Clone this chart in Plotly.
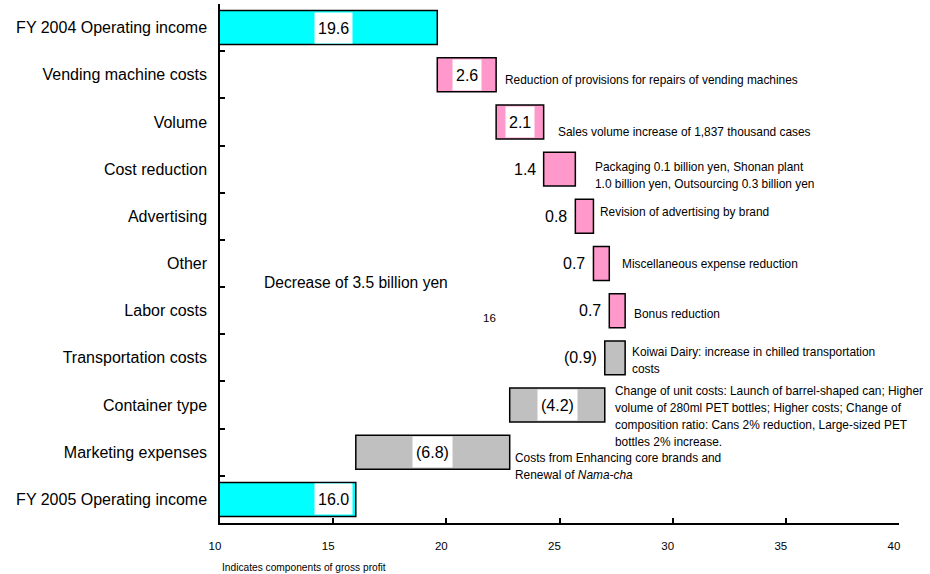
import plotly.graph_objects as go

# ---------------- data ----------------
categories = [
    "FY 2004 Operating income",
    "Vending machine costs",
    "Volume",
    "Cost reduction",
    "Advertising",
    "Other",
    "Labor costs",
    "Transportation costs",
    "Container type",
    "Marketing expenses",
    "FY 2005 Operating income",
]
start_value = 19.6
changes = [2.6, 2.1, 1.4, 0.8, 0.7, 0.7, -0.9, -4.2, -6.8]
end_value = 16.0

notes = [
    None,
    ["Reduction of provisions for repairs of vending machines"],
    ["Sales volume increase of 1,837 thousand cases"],
    ["Packaging 0.1 billion yen, Shonan plant",
     "1.0 billion yen, Outsourcing 0.3 billion yen"],
    ["Revision of advertising by brand"],
    ["Miscellaneous expense reduction"],
    ["Bonus reduction"],
    ["Koiwai Dairy: increase in chilled transportation", "costs"],
    ["Change of unit costs: Launch of barrel-shaped can; Higher",
     "volume of 280ml PET bottles; Higher costs; Change of",
     "composition ratio: Cans 2% reduction, Large-sized PET",
     "bottles 2% increase."],
    ["Costs from Enhancing core brands and",
     "Renewal of <i>Nama-cha</i>"],
    None,
]
x_ticks = [10, 15, 20, 25, 30, 35, 40]
decrease_text = "Decrease of 3.5 billion yen"
stray_label = "16"
footnote = "Indicates components of gross profit"

# ---------------- styles / label placement ----------------
colors = {"total": "#00FFFF", "up": "#FF99CC", "down": "#C0C0C0"}
FONT = "Liberation Sans, Arial, sans-serif"
note_xshift = [0, 7, 12, 18, 5, 11, 7, 5, 8, 3, 0]
note_yshift = [0, -5, -10, -6, 4, 0, -3, -3, -11, -14, 0]
line_gap = 17
total_label_x = 15.0

# ---------------- waterfall geometry ----------------
bases, lengths, kinds, labels = [0.0], [start_value], ["total"], [f"{start_value:.1f}"]
running = start_value
for c in changes:
    if c >= 0:
        bases.append(running)
        running += c
        kinds.append("up")
        labels.append(f"{c:.1f}")
    else:
        running += c
        bases.append(running)
        kinds.append("down")
        labels.append(f"({abs(c):.1f})")
    lengths.append(abs(c))
bases.append(0.0)
lengths.append(end_value)
kinds.append("total")
labels.append(f"{end_value:.1f}")

fig = go.Figure(
    go.Bar(
        y=categories,
        x=lengths,
        base=bases,
        orientation="h",
        width=0.72,
        marker=dict(color=[colors[k] for k in kinds],
                    line=dict(color="black", width=1.5)),
        hoverinfo="skip",
    )
)

annotations = []
for i, cat in enumerate(categories):
    b, l, k = bases[i], lengths[i], kinds[i]
    if k == "total":
        annotations.append(dict(x=total_label_x, y=cat, text=labels[i], showarrow=False,
                                bgcolor="white", borderpad=3, height=24,
                                font=dict(size=16, family=FONT, color="black")))
    elif l >= 2:
        annotations.append(dict(x=b + l / 2, y=cat, text=labels[i], showarrow=False,
                                bgcolor="white", borderpad=3, height=24,
                                font=dict(size=16, family=FONT, color="black")))
    else:
        annotations.append(dict(x=b, y=cat, text=labels[i], showarrow=False,
                                xanchor="right", xshift=-6,
                                font=dict(size=16, family=FONT, color="black")))
    if notes[i]:
        n = len(notes[i])
        for j, line in enumerate(notes[i]):
            annotations.append(dict(
                x=b + l, y=cat, text=line, showarrow=False,
                xanchor="left", yanchor="middle",
                xshift=note_xshift[i],
                yshift=note_yshift[i] + ((n - 1) / 2 - j) * line_gap,
                font=dict(size=11.9, family=FONT, color="black")))

annotations.append(dict(x=16.0, y="Other", text=decrease_text, showarrow=False,
                        yshift=-19, font=dict(size=15.6, family=FONT, color="black")))
annotations.append(dict(x=21.9, y="Labor costs", text=stray_label, showarrow=False,
                        yshift=-7, font=dict(size=11.5, family=FONT, color="black")))
annotations.append(dict(x=0, xref="paper", y=-0.085, yref="paper", text=footnote,
                        showarrow=False, xanchor="left", yanchor="middle",
                        font=dict(size=10.2, family=FONT, color="black")))

fig.update_layout(
    width=930, height=574,
    margin=dict(l=220, r=31, t=4, b=51),
    plot_bgcolor="white", paper_bgcolor="white",
    showlegend=False,
    font=dict(family=FONT, color="black"),
    annotations=annotations,
)
fig.update_xaxes(
    range=[10, 40], tickvals=x_ticks, ticks="inside", ticklen=5,
    tickcolor="black", tickwidth=1.5, showline=True, linecolor="black",
    linewidth=2, showgrid=False, zeroline=False,
    tickfont=dict(size=11.5, family=FONT, color="black"), ticklabelstandoff=11,
    ticklabelshift=-5,
)
fig.update_yaxes(
    type="category", categoryorder="array", categoryarray=categories,
    range=[10.5, -0.5], tickson="boundaries", ticks="inside", ticklen=5,
    tickcolor="black", tickwidth=1.5, showline=True, linecolor="black",
    linewidth=1.5, showgrid=False,
    tickfont=dict(size=16, family=FONT, color="black"), ticklabelstandoff=8,
)

fig.write_html("out.html")
